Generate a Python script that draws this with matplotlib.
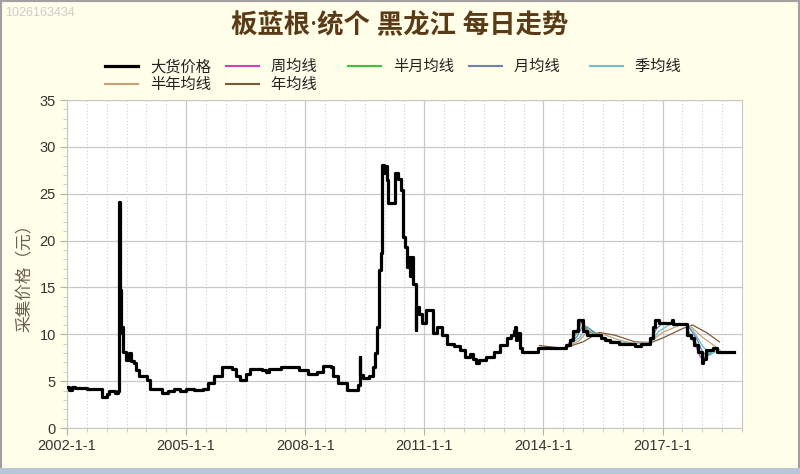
import numpy as np
import matplotlib.pyplot as plt
from matplotlib.ticker import MultipleLocator, FixedLocator, FuncFormatter
from matplotlib.patches import Rectangle

plt.rcParams['font.family'] = ['Noto Sans CJK SC', 'DejaVu Sans']

# 大货价格 (年份小数, 元)
price_x = [2002.00, 2002.05, 2002.12, 2002.20, 2002.50, 2002.83, 2002.88, 2003.00, 2003.05, 2003.20,
           2003.28, 2003.31, 2003.33, 2003.35, 2003.38, 2003.42, 2003.48, 2003.55, 2003.60, 2003.68,
           2003.75, 2003.82, 2003.95, 2004.02, 2004.08, 2004.25, 2004.40, 2004.55, 2004.70, 2004.85,
           2005.00, 2005.20, 2005.43, 2005.55, 2005.70, 2005.90, 2006.15, 2006.25, 2006.36, 2006.50,
           2006.62, 2006.90, 2007.00, 2007.10, 2007.40, 2007.75, 2007.85, 2008.08, 2008.30, 2008.45,
           2008.65, 2008.70, 2008.83, 2009.04, 2009.30, 2009.34, 2009.37, 2009.39, 2009.45, 2009.60,
           2009.70, 2009.76, 2009.82, 2009.86, 2009.90, 2009.93, 2009.98, 2010.02, 2010.05, 2010.09,
           2010.20, 2010.26, 2010.34, 2010.40, 2010.47, 2010.52, 2010.57, 2010.60, 2010.64, 2010.68,
           2010.72, 2010.78, 2010.80, 2010.86, 2010.95, 2011.05, 2011.14, 2011.22, 2011.32, 2011.45,
           2011.56, 2011.75, 2011.90, 2012.03, 2012.15, 2012.22, 2012.30, 2012.38, 2012.55, 2012.75,
           2012.90, 2013.08, 2013.18, 2013.25, 2013.28, 2013.30, 2013.33, 2013.41, 2013.45, 2013.83,
           2013.87, 2014.54, 2014.58, 2014.66, 2014.75, 2014.88, 2014.96, 2015.00, 2015.09, 2015.35,
           2015.45, 2015.55, 2015.68, 2015.90, 2016.25, 2016.31, 2016.45, 2016.69, 2016.75, 2016.81,
           2016.90, 2017.20, 2017.24, 2017.27, 2017.57, 2017.61, 2017.72, 2017.80, 2017.88, 2017.98,
           2018.02, 2018.10, 2018.28, 2018.36, 2018.79]
price_y = [4.4, 4.05, 4.4, 4.3, 4.2, 4.2, 3.35, 3.6, 3.9, 3.7,
           3.9, 24.1, 14.7, 10.1, 10.8, 8.1, 7.3, 8.0, 7.2, 6.9,
           6.2, 5.5, 5.6, 5.1, 4.2, 4.2, 3.7, 3.9, 4.2, 4.0,
           4.2, 4.1, 4.2, 4.8, 5.5, 6.5, 6.35, 5.5, 5.1, 5.8,
           6.35, 6.2, 6.0, 6.35, 6.5, 6.5, 6.2, 5.8, 6.0, 6.6,
           6.5, 5.5, 4.8, 4.05, 4.05, 4.6, 7.6, 5.7, 5.3, 5.5,
           6.5, 8.0, 10.8, 16.9, 18.7, 28.1, 27.2, 28.0, 26.5, 24.0,
           24.0, 27.2, 26.6, 25.4, 20.4, 19.3, 17.2, 18.3, 16.2, 18.3,
           15.4, 10.5, 12.9, 12.2, 11.2, 12.6, 12.6, 10.1, 10.8, 9.9,
           9.0, 8.7, 8.3, 7.6, 7.9, 7.4, 6.9, 7.3, 7.6, 8.1,
           8.9, 9.6, 9.9, 10.4, 10.8, 9.4, 10.1, 8.5, 8.1, 8.1,
           8.5, 8.5, 8.9, 9.4, 10.3, 11.5, 11.5, 10.4, 9.9, 9.9,
           9.6, 9.4, 9.2, 9.0, 9.0, 8.7, 9.0, 9.6, 10.8, 11.5,
           11.2, 11.2, 11.5, 11.1, 11.1, 9.9, 9.6, 8.9, 8.1, 6.9,
           7.4, 8.3, 8.5, 8.1, 8.1]

# 均线 (只在2014年后显示, nan 断开)
nan = np.nan
week_x = [2014.55, 2014.80, 2014.95, 2015.05, 2015.20, nan, 2017.62, 2017.80, 2017.95, 2018.05, 2018.15]
week_y = [8.5, 10.1, 11.4, 10.6, 9.9, nan, 10.2, 9.1, 7.6, 7.3, 8.2]
half_month_x = [2014.55, 2014.82, 2014.97, 2015.10, 2015.30, nan, 2017.62, 2017.82, 2017.98, 2018.08, 2018.20]
half_month_y = [8.5, 10.0, 11.3, 10.5, 9.9, nan, 10.5, 9.3, 7.9, 7.5, 8.3]
month_x = [2014.55, 2014.85, 2015.00, 2015.15, 2015.40, nan, 2016.70, 2016.85, 2017.00, nan,
           2017.62, 2017.85, 2018.00, 2018.12, 2018.28]
month_y = [8.5, 9.8, 11.0, 10.6, 9.9, nan, 9.4, 10.6, 11.2, nan, 11.0, 9.6, 8.2, 7.6, 8.3]
quarter_x = [2014.50, 2014.90, 2015.10, 2015.30, 2015.70, 2016.30, 2016.70, 2016.90, 2017.20,
             2017.60, 2017.80, 2018.00, 2018.20, 2018.35]
quarter_y = [8.5, 9.6, 10.8, 10.1, 9.3, 9.0, 9.1, 10.3, 11.1, 11.1, 10.2, 8.8, 7.8, 8.2]
half_year_x = [2013.90, 2014.50, 2014.90, 2015.10, 2015.50, 2015.90, 2016.30, 2016.70, 2017.00,
               2017.50, 2017.70, 2018.00, 2018.30, 2018.45]
half_year_y = [8.6, 8.5, 9.3, 10.3, 10.0, 9.4, 9.0, 9.2, 10.2, 11.1, 10.9, 9.7, 8.8, 8.3]
year_x = [2013.90, 2014.50, 2015.00, 2015.40, 2015.80, 2016.30, 2016.70, 2017.00, 2017.50,
          2017.75, 2018.10, 2018.43]
year_y = [8.8, 8.5, 9.2, 10.2, 9.9, 9.2, 9.1, 9.6, 10.6, 11.0, 10.2, 9.2]

x_ticks = [2002, 2005, 2008, 2011, 2014, 2017]

fig = plt.figure(figsize=(8, 4.74), dpi=100, facecolor='#fffee8')
ax = fig.add_axes([0.08375, 0.097, 0.84375, 0.692])
ax.set_facecolor('white')

ax.plot(year_x, year_y, color='#7a5a3a', lw=0.9, label='年均线', zorder=2)
ax.plot(half_year_x, half_year_y, color='#c8a078', lw=0.9, label='半年均线', zorder=2)
ax.plot(quarter_x, quarter_y, color='#6fc0cc', lw=1.0, label='季均线', zorder=2)
ax.plot(month_x, month_y, color='#7080b0', lw=0.9, label='月均线', zorder=2)
ax.plot(half_month_x, half_month_y, color='#40c040', lw=0.9, label='半月均线', zorder=2)
ax.plot(week_x, week_y, color='#d040c0', lw=0.9, label='周均线', zorder=2)
ax.plot(price_x, price_y, color='black', lw=2.3, drawstyle='steps-post', label='大货价格', zorder=3)

ax.set_xlim(2002, 2019)
ax.set_ylim(0, 35)
ax.xaxis.set_major_locator(FixedLocator(x_ticks))
ax.xaxis.set_minor_locator(MultipleLocator(0.5))
ax.xaxis.set_major_formatter(FuncFormatter(lambda v, p: f'{int(round(v))}-1-1'))
ax.yaxis.set_major_locator(MultipleLocator(5))
ax.yaxis.set_minor_locator(MultipleLocator(1))

ax.grid(which='major', axis='both', color='#c8c8c8', lw=0.9)
ax.grid(which='minor', axis='x', color='#d0d0d0', lw=0.8, linestyle=(0, (1, 2)))
ax.set_axisbelow(True)
for s in ax.spines.values():
    s.set_color('#c8c8c8')
ax.tick_params(axis='both', which='major', labelsize=10.5, colors='#b0b0b0', labelcolor='#333333',
               length=5, pad=3)
ax.tick_params(axis='both', which='minor', colors='#c0c0c0', length=3)
for lab in ax.get_xticklabels() + ax.get_yticklabels():
    lab.set_family(['Liberation Sans', 'DejaVu Sans'])

ax.set_ylabel('采集价格（元）', fontsize=12, color='#6a5e4e')
ax.yaxis.set_label_coords(-0.05, 0.47)

fig.text(0.5, 0.945, '板蓝根·统个 黑龙江 每日走势', ha='center', va='center',
         fontsize=19, fontweight='bold', color='#5b3a17',
         family=['Noto Sans', 'Noto Sans CJK SC'])
fig.text(0.006, 0.972, '1026163434', ha='left', va='center', fontsize=9, color='#cccccc',
         family=['Liberation Sans'])

# 图例顺序: 按列填充, 三字标签补全角空格使各列等宽
handles, labels = ax.get_legend_handles_labels()
order = ['大货价格', '半年均线', '周均线', '年均线', '半月均线', '月均线', '季均线']
hmap = dict(zip(labels, handles))
names = [k if len(k) == 4 else k + '\u3000' for k in order]
leg = fig.legend([hmap[k] for k in order], names, ncol=5, loc='center left',
                 bbox_to_anchor=(105 / 800, 1 - 75.5 / 474),
                 frameon=False, fontsize=11, handlelength=2.15, columnspacing=1.0,
                 handletextpad=0.8, labelspacing=0.05, borderpad=0, borderaxespad=0)
for t in leg.get_texts():
    t.set_color('#222222')
for l in leg.get_lines():
    l.set_linewidth(1.5)
leg.get_lines()[0].set_linewidth(2.3)

# 窗口边框
fig.patches.append(Rectangle((0, 0), 1, 1, transform=fig.transFigure, fill=False,
                             edgecolor='#a0a0a0', lw=3, zorder=10))
fig.patches.append(Rectangle((0, 0), 1, 0.012, transform=fig.transFigure, facecolor='#b8c8d8',
                             edgecolor='none', zorder=10))

fig.savefig('out.png', dpi=100, facecolor=fig.get_facecolor())
